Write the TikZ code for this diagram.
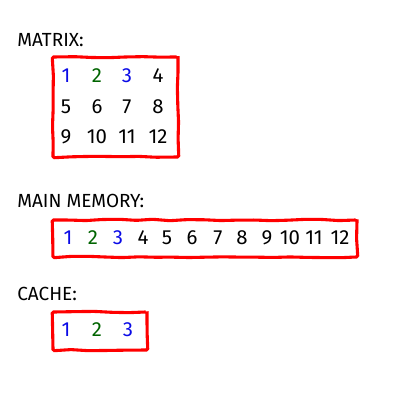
\documentclass[tikz,border=0pt]{standalone}
\usepackage{fontspec}
\setmainfont{Fira Sans}
\usetikzlibrary{decorations.pathmorphing}
\definecolor{numblue}{RGB}{10,10,230}
\definecolor{numgreen}{RGB}{0,100,0}
\tikzset{
  lbl/.style={anchor=west, font=\fontsize{13.5}{15}\selectfont, inner sep=0pt},
  num/.style={font=\fontsize{14.5}{16}\selectfont, inner sep=0pt},
  bnum/.style={num, text=numblue},
  gnum/.style={num, text=numgreen},
  box/.style={draw=red, line width=2.2pt, inner sep=0pt,
    decoration={random steps, segment length=12pt, amplitude=0.5pt}, decorate, rounded corners=1pt}
}
\begin{document}
\begin{tikzpicture}[x=0.025cm, y=-0.025cm]
\pgfmathsetseed{7}
\useasboundingbox (0,0) rectangle (400,400);
% matrix
\node[lbl] (lmat) at (17,40) {MATRIX:};
\node[box, minimum width=3.125cm, minimum height=2.5cm] (mbox) at (115.5,107) {};
\node[bnum] (m1) at (66,76) {1};
\node[gnum] (m2) at (97,76) {2};
\node[bnum] (m3) at (127,76) {3};
\node[num] (m4) at (158,76) {4};
\node[num] (m5) at (66,107) {5};
\node[num] (m6) at (97,107) {6};
\node[num] (m7) at (127,107) {7};
\node[num] (m8) at (158,107) {8};
\node[num] (m9) at (66,137) {9};
\node[num] (m10) at (97,137) {10};
\node[num] (m11) at (127,137) {11};
\node[num] (m12) at (158,137) {12};
% main memory
\node[lbl] (lmem) at (17,201) {MAIN MEMORY:};
\node[box, minimum width=7.6cm, minimum height=0.925cm] (membox) at (205,238.5) {};
\node[bnum] (a1) at (68,238) {1};
\node[gnum] (a2) at (93,238) {2};
\node[bnum] (a3) at (118,238) {3};
\node[num] (a4) at (143,238) {4};
\node[num] (a5) at (167,238) {5};
\node[num] (a6) at (192,238) {6};
\node[num] (a7) at (218,238) {7};
\node[num] (a8) at (242,238) {8};
\node[num] (a9) at (267,238) {9};
\node[num] (a10) at (290,238) {10};
\node[num] (a11) at (314,238) {11};
\node[num] (a12) at (340,238) {12};
% cache
\node[lbl] (lcache) at (17,294) {CACHE:};
\node[box, minimum width=2.35cm, minimum height=0.95cm] (cbox) at (100,331) {};
\node[bnum] (c1) at (66,330) {1};
\node[gnum] (c2) at (97,330) {2};
\node[bnum] (c3) at (128,330) {3};
\end{tikzpicture}
\end{document}
